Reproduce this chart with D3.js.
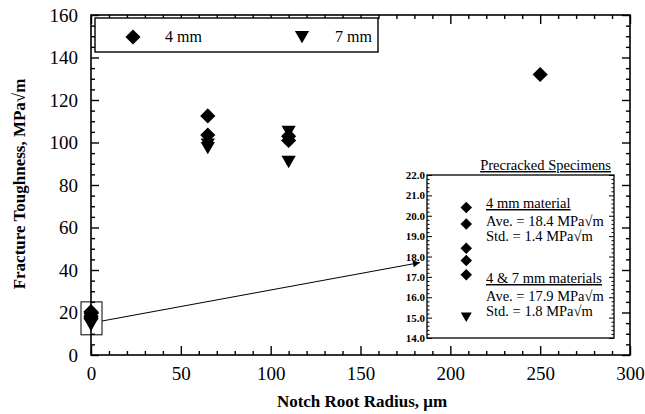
<!DOCTYPE html>
<html><head><meta charset="utf-8">
<script src="https://cdn.jsdelivr.net/npm/d3@7"></script>
<style>body{margin:0;background:#fff}svg{display:block}text{font-family:"Liberation Serif","Times New Roman",serif;fill:#000}</style>
</head><body><svg id="c" width="645" height="414"></svg>
<script>
// Main chart data
const notch4 = [65, 65, 110, 110, 250, 0, 0, 0, 0, 0];
const tough4 = [112.5, 103.5, 103, 101, 132, 20.4, 19.6, 18.4, 17.8, 17.1];
const notch7 = [65, 65, 110, 110, 0];
const tough7 = [100, 98.3, 106, 91.8, 15.1];
const xTicks = [0, 50, 100, 150, 200, 250, 300];
const yTicks = [0, 20, 40, 60, 80, 100, 120, 140, 160];
// Inset (precracked specimens)
const inset4 = [20.4, 19.6, 18.4, 17.8, 17.1];
const inset7 = [15.1];
const insetTicks = [14, 15, 16, 17, 18, 19, 20, 21, 22];

const svg = d3.select("#c");
const L = 91, R = 630, T = 15, B = 355;
const x = d3.scaleLinear().domain([0, 300]).range([L, R]);
const y = d3.scaleLinear().domain([0, 160]).range([B, T]);

const g = svg.append("g");
g.append("rect").attr("x", L).attr("y", T).attr("width", R - L).attr("height", B - T)
  .attr("fill", "none").attr("stroke", "#000").attr("stroke-width", 1.6);

const xMinor = d3.range(0, 301, 10).filter(v => v % 50 !== 0);
const yMinor = d3.range(0, 161, 5).filter(v => v % 20 !== 0);

function styleAxis(sel) {
  sel.attr("font-family", null).attr("font-size", null);
  sel.select(".domain").remove();
  sel.selectAll("line").attr("stroke", "#000").attr("stroke-width", 1.4);
  sel.selectAll("text").style("font-family", "Liberation Serif").style("font-size", "19px");
}
g.append("g").attr("transform", `translate(0,${B})`)
  .call(d3.axisBottom(x).tickValues(xTicks).tickSize(-9).tickPadding(12)).call(styleAxis);
g.append("g").attr("transform", `translate(0,${B})`)
  .call(d3.axisBottom(x).tickValues(xMinor).tickSize(-4).tickFormat("")).call(styleAxis);
g.append("g").attr("transform", `translate(0,${T})`)
  .call(d3.axisTop(x).tickValues(xTicks).tickSize(-9).tickFormat("")).call(styleAxis);
g.append("g").attr("transform", `translate(0,${T})`)
  .call(d3.axisTop(x).tickValues(xMinor).tickSize(-4).tickFormat("")).call(styleAxis);
g.append("g").attr("transform", `translate(${L},0)`)
  .call(d3.axisLeft(y).tickValues(yTicks).tickSize(-8).tickPadding(13)).call(styleAxis);
g.append("g").attr("transform", `translate(${L},0)`)
  .call(d3.axisLeft(y).tickValues(yMinor).tickSize(-4).tickFormat("")).call(styleAxis);
g.append("g").attr("transform", `translate(${R},0)`)
  .call(d3.axisRight(y).tickValues(yTicks).tickSize(-8).tickFormat("")).call(styleAxis);
g.append("g").attr("transform", `translate(${R},0)`)
  .call(d3.axisRight(y).tickValues(yMinor).tickSize(-4).tickFormat("")).call(styleAxis);

// axis titles
svg.append("text").attr("x", 362).attr("y", 407).attr("text-anchor", "middle")
  .style("font-weight", "bold").style("font-size", "17px").text("Notch Root Radius, μm");
svg.append("text").attr("transform", "translate(25,184) rotate(-90)").attr("text-anchor", "middle")
  .style("font-weight", "bold").style("font-size", "17px").text("Fracture Toughness, MPa√m");

const diamond = d3.symbol().type(d3.symbolSquare).size(115);
const tri = d3.symbol().type(d3.symbolTriangle).size(88);
const diamondS = d3.symbol().type(d3.symbolSquare).size(66);
const triS = d3.symbol().type(d3.symbolTriangle).size(52);

// zoom box
g.append("rect").attr("x", x(0) - 10).attr("y", y(25)).attr("width", 21).attr("height", y(9.5) - y(25))
  .attr("fill", "none").attr("stroke", "#000").attr("stroke-width", 1);

// points
g.selectAll(".p4").data(notch4.map((n, i) => [n, tough4[i]])).join("path")
  .attr("d", diamond).attr("transform", d => `translate(${x(d[0])},${y(d[1])}) rotate(45)`).attr("fill", "#000");
g.selectAll(".p7").data(notch7.map((n, i) => [n, tough7[i]])).join("path")
  .attr("d", tri).attr("transform", d => `translate(${x(d[0])},${y(d[1])}) rotate(180)`).attr("fill", "#000");

// legend
const leg = svg.append("g");
leg.append("rect").attr("x", 95).attr("y", 18).attr("width", 283).attr("height", 34)
  .attr("fill", "#fff").attr("stroke", "#000").attr("stroke-width", 1.4);
leg.append("path").attr("d", diamond).attr("transform", "translate(133,37) rotate(45)").attr("fill", "#000");
leg.append("text").attr("x", 165).attr("y", 42).style("font-size", "16px").text("4 mm");
leg.append("path").attr("d", tri).attr("transform", "translate(302,35) rotate(180)").attr("fill", "#000");
leg.append("text").attr("x", 335).attr("y", 42).style("font-size", "16px").text("7 mm");

// inset
const iL = 427, iR = 614, iT = 175, iB = 338;
const xi = d3.scaleLinear().domain([0, 1]).range([iL, iR]);
const yi = d3.scaleLinear().domain([14, 22]).range([iB, iT]);
const ins = svg.append("g");
ins.append("rect").attr("x", iL).attr("y", iT).attr("width", iR - iL).attr("height", iB - iT)
  .attr("fill", "#fff").attr("stroke", "#000").attr("stroke-width", 1.3);
const iMinor = d3.range(140, 221, 2).map(v => v / 10).filter(v => Math.abs(v - Math.round(v)) > 0.01);
function styleIn(sel) {
  sel.attr("font-family", null).attr("font-size", null);
  sel.select(".domain").remove();
  sel.selectAll("line").attr("stroke", "#000").attr("stroke-width", 1);
  sel.selectAll("text").style("font-family", "Liberation Serif").style("font-size", "11px").style("font-weight", "bold");
}
ins.append("g").attr("transform", `translate(${iL},0)`)
  .call(d3.axisLeft(yi).tickValues(insetTicks).tickSize(-5).tickPadding(2).tickFormat(d3.format(".1f"))).call(styleIn);
ins.append("g").attr("transform", `translate(${iL},0)`)
  .call(d3.axisLeft(yi).tickValues(iMinor).tickSize(-2.5).tickFormat("")).call(styleIn);
ins.append("g").attr("transform", `translate(${iR},0)`)
  .call(d3.axisRight(yi).tickValues(insetTicks).tickSize(-5).tickFormat("")).call(styleIn);
ins.append("g").attr("transform", `translate(${iR},0)`)
  .call(d3.axisRight(yi).tickValues(iMinor).tickSize(-2.5).tickFormat("")).call(styleIn);

ins.selectAll(".i4").data(inset4).join("path").attr("d", diamondS)
  .attr("transform", d => `translate(${xi(0.21)},${yi(d)}) rotate(45)`).attr("fill", "#000");
ins.selectAll(".i7").data(inset7).join("path").attr("d", triS)
  .attr("transform", d => `translate(${xi(0.21)},${yi(d)}) rotate(180)`).attr("fill", "#000");

const tx = 486;
const lines = [
  ["Precracked Specimens", 611, 170, "end", true],
  ["4 mm material", tx, 208, "start", true],
  ["Ave. = 18.4 MPa√m", tx, 226, "start", false],
  ["Std. = 1.4 MPa√m", tx, 241, "start", false],
  ["4 & 7 mm materials", tx, 283, "start", true],
  ["Ave. = 17.9 MPa√m", tx, 301, "start", false],
  ["Std. = 1.8 MPa√m", tx, 316, "start", false]
];
lines.forEach(([t, px, py, anc, ul]) => {
  ins.append("text").attr("x", px).attr("y", py).attr("text-anchor", anc)
    .style("font-size", "14.5px").style("text-decoration", ul ? "underline" : "none").text(t);
});

// arrow
const defs = svg.append("defs");
defs.append("marker").attr("id", "ah").attr("viewBox", "0 0 10 10").attr("refX", 10).attr("refY", 5)
  .attr("markerWidth", 12).attr("markerHeight", 7).attr("markerUnits", "userSpaceOnUse").attr("orient", "auto")
  .append("path").attr("d", "M0,0L10,5L0,10Z").attr("fill", "#000");
svg.append("line").attr("x1", x(0) + 11).attr("y1", y(16)).attr("x2", 420).attr("y2", y(43.5))
  .attr("stroke", "#000").attr("stroke-width", 1).attr("marker-end", "url(#ah)");
</script></body></html>
